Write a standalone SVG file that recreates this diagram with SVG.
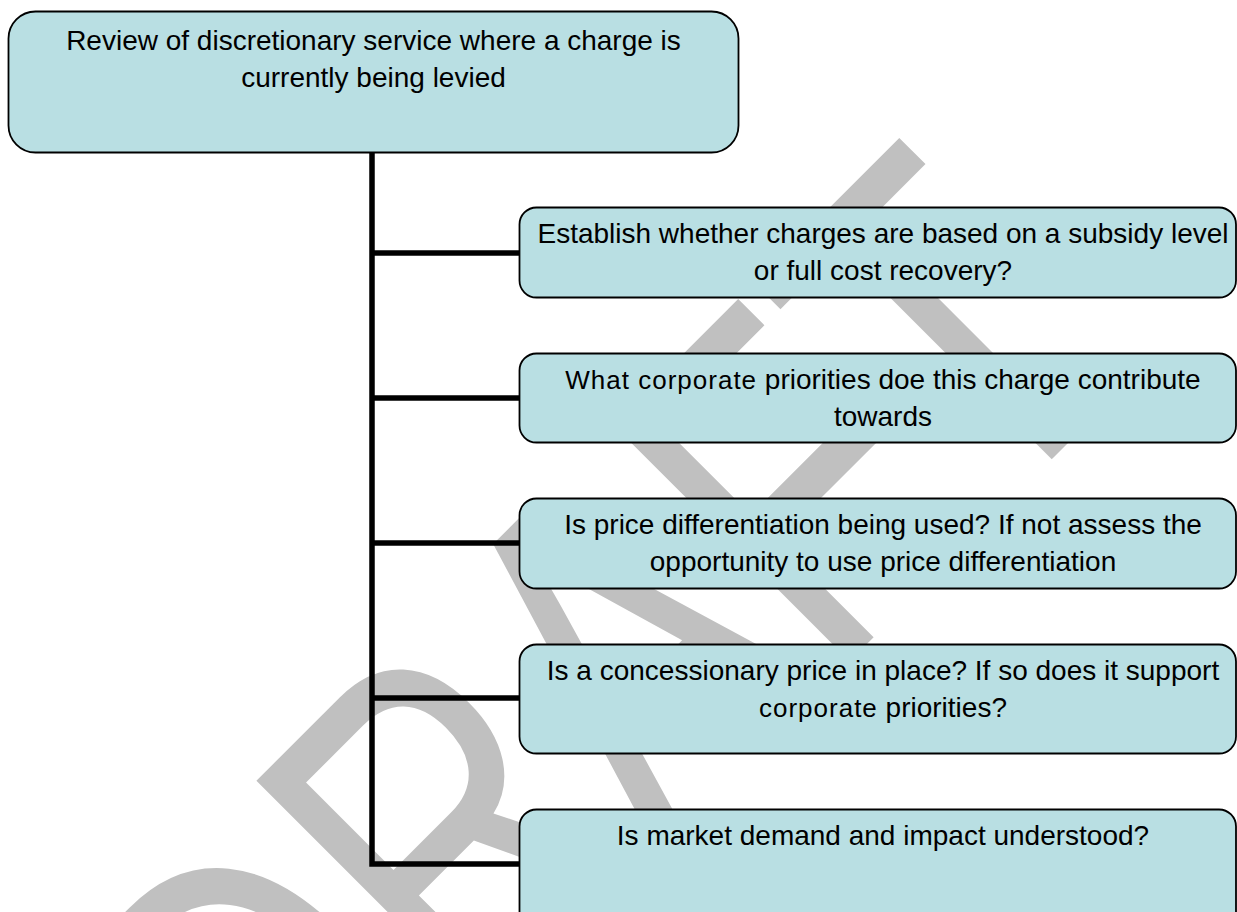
<svg xmlns="http://www.w3.org/2000/svg" width="1237" height="912" viewBox="0 0 1237 912">
  <style>
    .box { fill: #B9DFE3; stroke: #000; stroke-width: 1.8; }
    .t { font-family: "Liberation Sans", Arial, sans-serif; font-size: 28px; fill: #000; text-anchor: middle; }
    .sm { font-size: 26px; letter-spacing: 1px; }
    .wm { fill: #C0C0C0; font-family: "Liberation Sans", Arial, sans-serif; font-size: 487px; }
    .conn { stroke: #000; stroke-width: 5.5; fill: none; stroke-linejoin: miter; stroke-linecap: butt; }
  </style>
  <rect x="0" y="0" width="1237" height="912" fill="#FFFFFF"/>

  <g id="watermark">
    <text class="wm" transform="translate(287,1224) rotate(-45) scale(0.745,1)">DRAFT</text>
  </g>

  <g id="connectors">
    <path class="conn" d="M372,152 V864 H520"/>
    <path class="conn" d="M372,253 H520"/>
    <path class="conn" d="M372,398 H520"/>
    <path class="conn" d="M372,543 H520"/>
    <path class="conn" d="M372,698 H520"/>
  </g>

  <g id="node-root">
    <rect class="box" x="8.5" y="11.5" width="730" height="141" rx="27" ry="27"/>
    <text class="t" x="373.5" y="50">Review of discretionary service where a charge is</text>
    <text class="t" x="373.5" y="87">currently being levied</text>
  </g>

  <g id="node-1">
    <rect class="box" x="519.5" y="207.5" width="716.5" height="90" rx="17" ry="17"/>
    <text class="t" x="883" y="243">Establish whether charges are based on a subsidy level</text>
    <text class="t" x="883" y="280">or full cost recovery?</text>
  </g>

  <g id="node-2">
    <rect class="box" x="519.5" y="353.5" width="716.5" height="89" rx="17" ry="17"/>
    <text class="t" x="883" y="389"><tspan class="sm">What corporate</tspan> priorities doe this charge contribute</text>
    <text class="t" x="883" y="426">towards</text>
  </g>

  <g id="node-3">
    <rect class="box" x="519.5" y="498.5" width="716.5" height="90" rx="17" ry="17"/>
    <text class="t" x="883" y="534">Is price differentiation being used? If not assess the</text>
    <text class="t" x="883" y="571">opportunity to use price differentiation</text>
  </g>

  <g id="node-4">
    <rect class="box" x="519.5" y="644.5" width="716.5" height="109" rx="17" ry="17"/>
    <text class="t" x="883" y="680">Is a concessionary price in place? If so does it support</text>
    <text class="t" x="883" y="717"><tspan class="sm">corporate</tspan> priorities?</text>
  </g>

  <g id="node-5">
    <rect class="box" x="519.5" y="809.5" width="716.5" height="120" rx="17" ry="17"/>
    <text class="t" x="883" y="845">Is market demand and impact understood?</text>
  </g>
</svg>
